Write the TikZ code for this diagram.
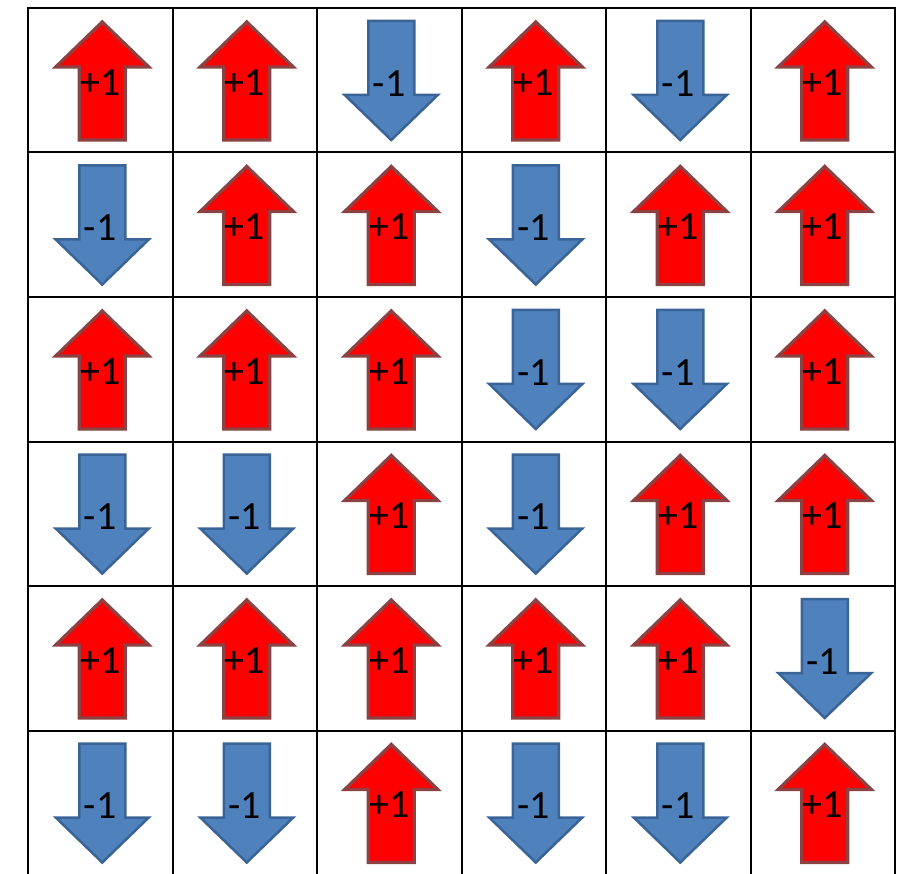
\documentclass[tikz,border=0pt]{standalone}
\usepackage{fontspec}
\setmainfont{Carlito}
\definecolor{upfill}{HTML}{FF0000}
\definecolor{upline}{HTML}{8C4242}
\definecolor{dnfill}{HTML}{4F81BD}
\definecolor{dnline}{HTML}{3A6496}
\begin{document}
\begin{tikzpicture}[x=1pt,y=-1pt]
\tikzset{
  gridline/.style={line width=2pt, black},
  upstyle/.style={fill=upfill, draw=upline, line width=3.3pt, line join=miter},
  dnstyle/.style={fill=dnfill, draw=dnline, line width=2.5pt, line join=miter},
  lbl/.style={font=\fontsize{40}{40}\selectfont, inner sep=0pt, text=black},
  uparr/.pic={
    \draw[upstyle] (2,-58.25) -- (48.5,-13.25) -- (25,-13.25) -- (25,59.75)
      -- (-21,59.75) -- (-21,-13.25) -- (-44.5,-13.25) -- cycle;
    \node[lbl] (-t) at (0,2) {+1};
  },
  dnarr/.pic={
    \draw[dnstyle] (-21,-59.25) -- (25,-59.25) -- (25,14.75) -- (48.5,14.75)
      -- (2,59.75) -- (-44.5,14.75) -- (-21,14.75) -- cycle;
    \node[lbl] (-t) at (0,3) {-1};
  },
}
\useasboundingbox (0,0) rectangle (897,874);
\begin{scope}
\clip (0,0) rectangle (897,874);
\foreach \i in {0,...,6} {
  \draw[gridline] ({28+144.5*\i},7) -- ({28+144.5*\i},880);
  \draw[gridline] (27,{8+144.5*\i}) -- (896,{8+144.5*\i});
}
\foreach \r/\pat in {0/{U,U,D,U,D,U},1/{D,U,U,D,U,U},2/{U,U,U,D,D,U},3/{D,D,U,D,U,U},4/{U,U,U,U,U,D},5/{D,D,U,D,D,U}} {
  \foreach \s [count=\c from 0] in \pat {
    \if\s U
      \pic (c\r\c) at ({28+144.5*\c+72.25},{8+144.5*\r+72.25}) {uparr};
    \else
      \pic (c\r\c) at ({28+144.5*\c+72.25},{8+144.5*\r+72.25}) {dnarr};
    \fi
  }
}
\end{scope}
\end{tikzpicture}
\end{document}
